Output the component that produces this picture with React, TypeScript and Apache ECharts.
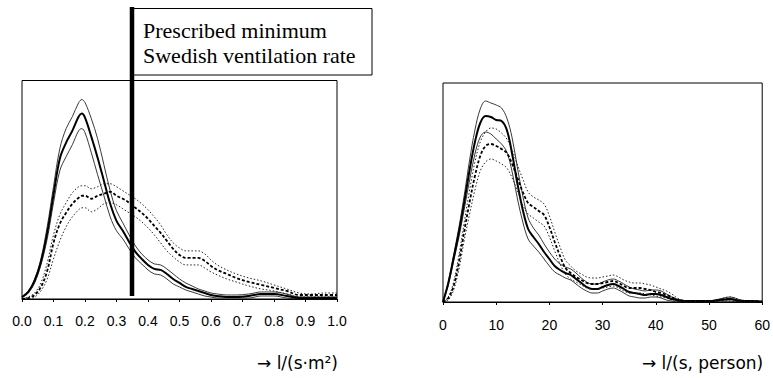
import React, { useEffect, useRef } from "react";
import * as echarts from "echarts";

// ---------- Left panel: ventilation rate per floor area, l/(s·m²) ----------
const leftX = [0, 0.02, 0.04, 0.06, 0.08, 0.1, 0.12, 0.14, 0.16, 0.18, 0.19, 0.2, 0.22, 0.24, 0.26, 0.28, 0.3, 0.32, 0.34, 0.36, 0.38, 0.4, 0.42, 0.44, 0.46, 0.48, 0.5, 0.52, 0.54, 0.56, 0.58, 0.6, 0.62, 0.65, 0.68, 0.72, 0.76, 0.8, 0.84, 0.88, 0.92, 0.96, 1.0];
const leftSolid = [2, 7, 18, 37, 66, 104, 140, 156, 168, 182, 185, 181, 162, 141, 118, 95, 78, 68, 57, 47, 40, 34, 30, 29, 25, 20, 16, 12, 10, 8, 6, 4, 3, 2, 2, 3, 5, 5, 3, 1, 1, 1, 1];
const leftSolidUpper = [2, 8, 20, 40, 72, 112, 150, 170, 182, 196, 199, 196, 180, 160, 134, 108, 88, 76, 64, 53, 45, 39, 35, 34, 30, 25, 20, 16, 13, 10, 8, 6, 5, 4, 4, 5, 7, 7, 5, 2, 2, 2, 2];
const leftSolidLower = [1, 6, 16, 34, 60, 96, 128, 142, 154, 168, 170, 166, 146, 124, 103, 82, 68, 60, 50, 41, 35, 29, 25, 24, 20, 15, 12, 9, 7, 5, 3, 2, 1, 1, 1, 1, 3, 3, 1, 0, 0, 0, 0];
const leftDashed = [0, 1, 4, 12, 28, 56, 75, 86, 95, 101, 103, 103, 100, 103, 105, 107, 103, 100, 96, 91, 86, 80, 73, 66, 58, 50, 44, 41, 41, 41, 38, 33, 29, 25, 21, 17, 14, 11, 8, 4, 4, 4, 4];
const leftDashedUpper = [0, 2, 6, 16, 36, 64, 84, 96, 106, 112, 113, 113, 110, 112, 115, 115, 112, 108, 104, 100, 95, 89, 82, 74, 64, 56, 51, 48, 48, 48, 45, 39, 34, 29, 25, 21, 18, 14, 10, 6, 5, 6, 6];
const leftDashedLower = [0, 0, 2, 8, 20, 40, 58, 72, 82, 89, 91, 91, 87, 90, 95, 96, 94, 90, 86, 82, 77, 71, 64, 56, 48, 42, 37, 34, 34, 34, 31, 27, 24, 20, 17, 13, 10, 8, 5, 2, 2, 2, 2];
const minimumRate = 0.35;

// ---------- Right panel: ventilation rate per person, l/(s, person) ----------
const rightX = [0, 1, 2, 3, 4, 5, 6, 7, 8, 9, 10, 11, 12, 13, 14, 15, 16, 17, 18, 19, 20, 21, 22, 23, 24, 25, 26, 27, 28, 29, 30, 31, 32, 33, 34, 35, 36, 37, 38, 39, 40, 41, 42, 43, 44, 45, 46, 48, 50, 52, 54, 56, 58, 60];
const rightSolid = [0, 19, 44, 70, 100, 132, 160, 179, 186, 185, 182, 181, 172, 148, 118, 92, 73, 65, 58, 50, 43, 36, 32, 29, 27, 23, 19, 15, 13, 13, 15, 17, 18, 16, 13, 10, 9, 8, 7, 8, 8, 7, 5, 3, 2, 1, 1, 1, 1, 2, 3, 1, 1, 0];
const rightSolidUpper = [0, 20, 47, 75, 107, 142, 172, 193, 201, 199, 197, 194, 184, 164, 134, 106, 84, 74, 67, 58, 50, 43, 38, 35, 33, 29, 24, 20, 18, 18, 20, 22, 23, 21, 18, 15, 13, 12, 11, 12, 12, 11, 8, 5, 3, 2, 1, 1, 1, 3, 5, 2, 1, 1];
const rightSolidLower = [0, 17, 41, 65, 93, 122, 148, 165, 170, 168, 163, 158, 150, 130, 103, 80, 63, 56, 50, 43, 36, 30, 27, 24, 22, 18, 14, 11, 9, 9, 11, 13, 14, 12, 9, 6, 5, 4, 4, 5, 5, 4, 2, 1, 0, 0, 0, 0, 0, 1, 1, 0, 0, 0];
const rightDashed = [0, 4, 16, 40, 71, 100, 126, 146, 156, 158, 156, 153, 149, 138, 124, 110, 99, 95, 91, 87, 75, 60, 46, 34, 29, 25, 22, 19, 18, 18, 19, 20, 21, 19, 16, 14, 14, 14, 13, 12, 10, 9, 7, 5, 2, 1, 1, 1, 1, 2, 3, 1, 1, 0];
const rightDashedUpper = [0, 5, 20, 47, 80, 112, 140, 160, 170, 174, 173, 169, 163, 152, 137, 123, 110, 105, 102, 98, 86, 70, 55, 42, 36, 31, 28, 25, 24, 24, 25, 26, 27, 25, 22, 20, 19, 19, 18, 17, 15, 13, 11, 8, 4, 2, 1, 1, 1, 3, 5, 2, 1, 1];
const rightDashedLower = [0, 2, 12, 33, 62, 88, 112, 131, 140, 143, 141, 138, 134, 124, 111, 97, 88, 84, 80, 76, 65, 51, 38, 28, 23, 20, 17, 14, 13, 13, 14, 15, 16, 14, 11, 9, 9, 9, 8, 7, 6, 5, 4, 2, 0, 0, 0, 0, 0, 1, 1, 0, 0, 0];

const boxText = ["Prescribed minimum", "Swedish ventilation rate"];
const leftUnit = "→ l/(s·m²)";
const rightUnit = "→ l/(s, person)";

const zip = (xs: number[], ys: number[]) => xs.map((x, i) => [x, ys[i]]);

const lineSeries = (
  xs: number[],
  ys: number[],
  idx: number,
  width: number,
  type: any,
  color: string
) => ({
  type: "line",
  xAxisIndex: idx,
  yAxisIndex: idx,
  data: zip(xs, ys),
  symbol: "none",
  smooth: 0.35,
  silent: true,
  lineStyle: { color, width, type },
  z: 3,
});

const tickFont = {
  color: "#000",
  fontSize: 14,
  fontFamily: "'Liberation Sans', Arial, sans-serif",
};

export default function App() {
  const ref = useRef<HTMLDivElement>(null);
  useEffect(() => {
    const chart = echarts.init(ref.current!, null, { renderer: "svg" });
    const option: any = {
      animation: false,
      backgroundColor: "#fff",
      grid: [
        { left: 22, top: 80.5, width: 315, height: 218.5, show: true, borderColor: "#000", borderWidth: 1, backgroundColor: "transparent" },
        { left: 443, top: 83, width: 323, height: 219, show: true, borderColor: "#000", borderWidth: 1, backgroundColor: "transparent" },
      ],
      xAxis: [
        {
          type: "value", gridIndex: 0, min: 0, max: 1, interval: 0.1,
          axisLine: { onZero: false, lineStyle: { color: "#000", width: 1 } },
          axisTick: { show: true, length: 3, lineStyle: { color: "#000" } },
          splitLine: { show: false },
          axisLabel: { ...tickFont, margin: 15, formatter: (v: number) => v.toFixed(1) },
        },
        {
          type: "value", gridIndex: 1, min: 0, max: 60, interval: 10,
          axisLine: { onZero: false, lineStyle: { color: "#000", width: 1 } },
          axisTick: { show: true, length: 3, lineStyle: { color: "#000" } },
          splitLine: { show: false },
          axisLabel: { ...tickFont, margin: 16 },
        },
      ],
      yAxis: [
        { type: "value", gridIndex: 0, min: 0, max: 218, show: false },
        { type: "value", gridIndex: 1, min: 0, max: 219, show: false },
      ],
      series: [
        lineSeries(leftX, leftSolidUpper, 0, 0.9, "solid", "#222"),
        lineSeries(leftX, leftSolidLower, 0, 0.9, "solid", "#222"),
        lineSeries(leftX, leftSolid, 0, 2, "solid", "#000"),
        lineSeries(leftX, leftDashedUpper, 0, 1, [1.5, 2], "#222"),
        lineSeries(leftX, leftDashedLower, 0, 1, [1.5, 2], "#222"),
        lineSeries(leftX, leftDashed, 0, 1.8, [3, 2], "#000"),
        lineSeries(rightX, rightSolidUpper, 1, 0.9, "solid", "#222"),
        lineSeries(rightX, rightSolidLower, 1, 0.9, "solid", "#222"),
        lineSeries(rightX, rightSolid, 1, 2, "solid", "#000"),
        lineSeries(rightX, rightDashedUpper, 1, 1, [1.5, 2], "#222"),
        lineSeries(rightX, rightDashedLower, 1, 1, [1.5, 2], "#222"),
        lineSeries(rightX, rightDashed, 1, 1.8, [3, 2], "#000"),
      ],
    };
    chart.setOption(option);

    const lx = chart.convertToPixel({ xAxisIndex: 0 }, minimumRate) as number;
    const leftEnd = chart.convertToPixel({ xAxisIndex: 0 }, 1) as number;
    const rightEnd = chart.convertToPixel({ xAxisIndex: 1 }, 60) as number;
    const unitFont = "17px 'DejaVu Sans', sans-serif";
    const serifFont = "22px 'Liberation Serif', 'Times New Roman', serif";
    chart.setOption({
      graphic: [
        {
          type: "rect", z: 100,
          shape: { x: lx, y: 8.5, width: 372 - lx, height: 66.5 },
          style: { fill: "#fff", stroke: "#000", lineWidth: 1 },
        },
        {
          type: "rect", z: 101,
          shape: { x: lx - 2.5, y: 7, width: 4.5, height: 289 },
          style: { fill: "#000" },
        },
        {
          type: "text", z: 102, x: 143, y: 30.5,
          style: { text: boxText[0], font: serifFont, fill: "#000", verticalAlign: "middle", align: "left" },
        },
        {
          type: "text", z: 102, x: 143, y: 55.5,
          style: { text: boxText[1], font: serifFont, fill: "#000", verticalAlign: "middle", align: "left" },
        },
        {
          type: "text", z: 102, x: leftEnd + 1, y: 363,
          style: { text: leftUnit, font: unitFont, fill: "#000", verticalAlign: "middle", align: "right" },
        },
        {
          type: "text", z: 102, x: rightEnd + 1, y: 363,
          style: { text: rightUnit, font: unitFont, fill: "#000", verticalAlign: "middle", align: "right" },
        },
      ],
    });
    return () => chart.dispose();
  }, []);
  return (
    <div
      ref={ref}
      style={{ position: "absolute", left: 0, top: 0, width: 773, height: 378 }}
    />
  );
}
